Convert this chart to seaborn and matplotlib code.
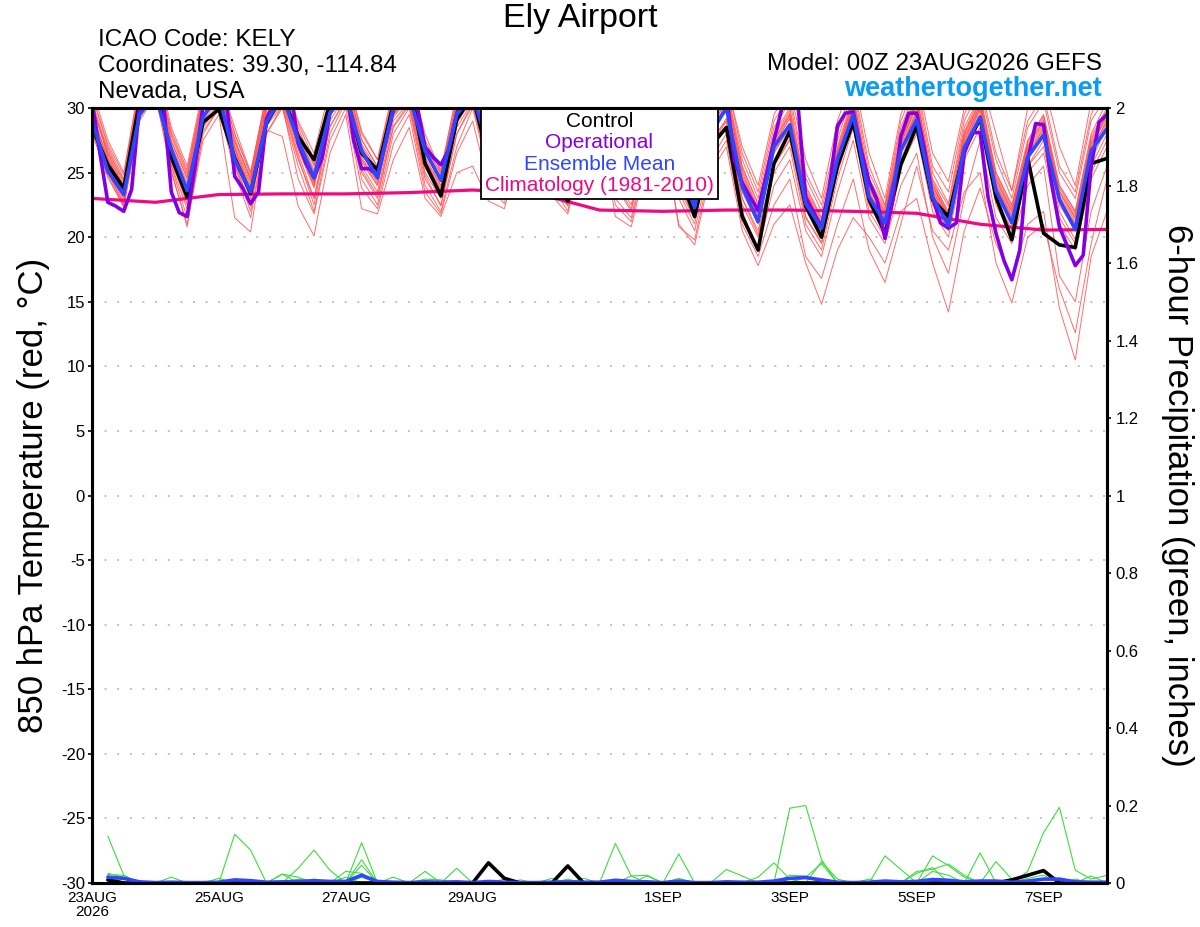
import numpy as np
import pandas as pd
import matplotlib
matplotlib.use("Agg")
import matplotlib.pyplot as plt
import seaborn as sns
from matplotlib.offsetbox import AnchoredOffsetbox, TextArea, VPacker

# forecast hours from 00Z 23AUG2026
hours = list(range(0, 385, 6))        # ensemble / control / mean (6-hourly)
hours_op = list(range(0, 385, 3))     # operational run (3-hourly)
hours_clim = list(range(0, 385, 24))  # climatology (daily)

# 850 hPa temperature (C)
control_t = [28.5, 25.6, 23.8, 30.5, 32, 26.2, 23.1, 28.9, 29.9, 26.1, 23.4, 28.8, 31,
             27.8, 26.0, 30.3, 31, 26.5, 25.2, 30.3, 32, 25.7, 23.2, 29.1, 31, 26,
             24, 29, 31, 24.5, 22.8, 28, 30.5, 25.5, 23.5, 28, 30, 25, 21.6, 27,
             28.5, 21.6, 19.0, 25.7, 28.2, 22.4, 20.0, 25.5, 28.9, 22.9, 20.3, 25.6,
             28.6, 22.9, 21.6, 26.7, 29.2, 23.1, 19.8, 26.1, 20.3, 19.4, 19.2, 25.7, 26.1]

mean_t = [29.0, 25.1, 23.3, 29.5, 31, 26.8, 23.6, 29.3, 31, 26.0, 23.5, 28.9, 31,
          27.5, 24.6, 29.6, 31, 26.7, 24.6, 30, 31, 26.7, 24.4, 29.5, 31, 27,
          25, 29.5, 31, 26.5, 24, 28.5, 30.5, 26, 24, 28, 30, 25.5, 22.3, 28,
          30, 23.9, 21.2, 27.0, 28.7, 22.6, 20.7, 26.0, 29.5, 23.1, 21.1, 26.7,
          29.1, 23.1, 20.9, 26.9, 29.3, 23.6, 21.1, 26.2, 27.9, 22.9, 20.6, 26.7, 28.4]

oper_t = [30.5, 26.5, 22.7, 22.4, 22.0, 23.7, 30.3, 32, 32, 30.5, 23.5, 21.9, 21.6,
          25.5, 30.2, 32, 32, 30.2, 24.7, 23.8, 22.6, 23.5, 29.1, 30.5, 32, 31.5,
          27.3, 25.7, 24.6, 26.1, 29.6, 31, 32, 27.5, 25.3, 25.3, 24.8, 27.3, 29.8,
          31, 32, 30.2, 27.0, 26.2, 25.6, 26.8, 29.6, 31, 32, 31, 27, 25.5, 24.5,
          26, 29.5, 31, 32, 30.5, 27, 25, 23.5, 25, 29, 31, 31.5, 30, 26.5, 25,
          23.8, 25, 28.5, 30.5, 31.5, 30, 26.5, 24, 22.8, 25.5, 29, 30.5, 31, 26,
          24.2, 23.1, 22.1, 24.7, 27.5, 30, 31.5, 30.5, 23.1, 21.9, 20.8, 23.9,
          28.6, 29.6, 29.7, 26.7, 24.3, 22.9, 19.9, 22.9, 27.8, 29.6, 29.6, 26.7,
          23.1, 21.1, 20.7, 21.1, 26.5, 28.1, 28.1, 23.1, 20.3, 18.2, 16.7, 19.0,
          26.0, 28.8, 28.7, 24.2, 20.8, 19.3, 17.8, 18.6, 25.5, 28.9, 29.5]

clim_t = [23.0, 22.7, 23.3, 23.35, 23.35, 23.45, 23.65, 23.4, 22.1, 22.0, 22.1,
          22.1, 22.0, 21.85, 21.0, 20.55, 20.6]

# ensemble members: one row per forecast step, one column per member
members_t = """
28.5 29 29.5 30 28 31 29 30.5 28.8 29.2 30 31 29.5 28.2 30.2 29.8 31.5 28.6 29.4 30.6
25 25.5 26 26.5 24.8 27 25.2 26.2 25.8 25.4 26.8 27.2 25.6 24.6 26.4 25.9 27.5 25.1 26.1 26.6
22.5 23 23.5 24 22.3 24.5 22.8 23.8 23.2 23.4 24.2 24.8 23.6 22.4 23.9 23.3 25 22.6 23.7 24.4
29.5 30 30.5 31 29 31.5 29.8 30.8 30.2 30.4 31.2 31.8 30.6 29.2 30.9 30.3 32 29.6 30.7 31.4
31.5 32 32.5 33 31 33 31.8 32.6 32.2 32.4 33 33.5 32.6 31.2 32.9 32.3 34 31.6 32.7 33.4
25.5 26 26.5 27.5 25 28 25.8 27 26.2 26.8 27.2 28.2 26.4 25.2 27.4 26.6 28.5 25.6 26.9 27.8
21.5 22.5 23.5 24.5 21 25 22.8 24 23 23.8 24.2 25.2 23.4 20.8 24.6 23.2 25.5 22.2 23.6 24.8
28 29 29.5 30.5 27.5 31 28.5 30 29.2 29.8 30.2 31.2 29.4 28.2 30.4 29.6 31.5 28.6 29.9 30.8
30 30.5 31 31.5 29.5 32 30.2 31.2 30.8 31 31.4 32.2 30.6 30 31.6 30.9 32.5 30.4 31.1 31.8
25.5 26 26.5 27.5 21.5 28 25.8 27 26.2 26.8 27.2 28.5 26.4 25 27.4 26.6 28 25.6 26.9 27.6
22 23 23.5 24.5 20.4 25 22.5 24 23.2 23.8 24.2 25 23.4 21.5 24.6 23.6 24.8 22.4 23.5 24.4
28 29 29.5 30.5 28.3 31 28.6 30 29.2 29.8 30.2 31 29.5 28 30.4 29.6 31.2 28.8 29.9 30.6
30 30.5 31 31.5 27.8 32 30.2 31.2 30.8 31 31.4 32.2 30.6 30.2 31.6 30.9 32.5 30.4 31.1 31.8
25.5 26.5 27 28 22.4 28.5 26 27.5 26.8 27.2 27.8 28.8 27 24.5 28 27.4 29 26.2 27.6 28.2
22 23 24 25 20.1 25.5 23 24.5 23.8 24.2 24.6 26 24 21.8 25.2 24.4 26.5 22.5 24.3 25.6
28 29 29.5 30.5 26.5 31 28.5 30 29.5 29.8 30.2 31 29.4 27.5 30.5 29.6 31.5 28.6 30 30.8
30.5 31 31.5 32 29.5 32.5 30.8 31.8 31.2 31.4 32 32.8 31.3 30 32.2 31.6 33 30.6 31.7 32.4
24.5 25.5 26 27 22.2 27.5 25 26.5 25.8 26.2 26.8 28 26 23.8 27.2 26.4 28.2 25.2 26.6 27.6
22.5 23.5 24 25 21.8 25.5 23 24.5 24 24.2 25 26 24.4 22.2 25.2 24.6 26 23.2 24.8 25.4
28 29 29.5 30.5 26 31 28.5 30 29.3 29.8 30.2 31.2 29.5 27.2 30.5 29.6 31.5 28.6 30 30.8
30 30.5 31 31.5 28.5 32 30.2 31.2 30.8 31 31.4 32.2 30.6 29.5 31.6 30.9 32.5 30.4 31.1 31.8
24 25 25.5 26.5 23 27 24.5 26 25.4 25.8 26.4 27.5 25.6 23.5 26.8 26 28 24.8 26.2 27.2
22 23 23.5 24.5 21.6 25 22.5 24 23.2 23.8 24.4 25.2 23.4 21.8 24.6 23.6 25 22.4 24 24.8
27 28.5 29 30 25 30.5 28 29.5 28.8 29.2 30 31 29 26.5 30.2 29.4 31.2 28 29.6 30.6
30 30.5 31 31.5 25.5 32 30.2 31.2 30.8 31 31.4 32.2 30.6 29 31.6 30.9 32.5 30.4 31.1 31.8
25 26 26.5 27.5 22.8 28 25.5 27 26.4 26.8 27.4 28.4 26.6 24 27.8 27 28.8 25.4 27.2 28.2
23 24 24.5 25.5 22.2 26 23.5 25 24.4 24.8 25.4 26.4 24.6 22.6 25.8 25 26.6 23.6 25.2 26
28 29 29.5 30.5 27 31 28.5 30 29.5 29.8 30.2 31 29.4 27.5 30.5 29.6 31.5 28.6 30 30.8
30 30.5 31 31.5 29 32 30.2 31.2 30.8 31 31.4 32.2 30.6 29.5 31.6 30.9 32.5 30.4 31.1 31.8
24 25 25.5 26.5 23.5 27 24.5 26 25.4 25.8 26.4 27.5 25.6 23.2 26.8 26 28 24.8 26.2 27.2
22 23 23.5 24.5 22.5 25 22.6 24 23.2 23.8 24.4 25.2 23.4 21.8 24.6 23.6 25 22.4 24 24.8
27.5 28.5 29 30 27 30.5 28 29.5 29 29.4 30 31 29.2 27 30.2 29.6 31 28.4 29.8 30.6
30 30.5 31 31.5 29 32 30.2 31.2 30.8 31 31.4 32.2 30.6 29.5 31.6 30.9 32.5 30.4 31.1 31.8
23 24.5 25 26 21.6 26.5 24 25.5 25 25.4 26 27 25.2 22.5 26.4 25.6 27.5 24.2 25.8 26.8
21.5 22.5 23 24 20.8 24.5 22 23.5 23 23.2 24 25 23.4 21.2 24.2 23.6 25 22.2 23.8 24.6
27 28 28.5 29.5 26 30 27.5 29 28.5 28.8 29.5 30.5 28.6 26.5 29.8 29 30.8 27.8 29.2 30.2
29.5 30 30.5 31 28 31.5 29.8 30.8 30.4 30.6 31 32 30.2 28.5 31.2 30.5 32 29.9 30.7 31.5
23 24 25 26 21 26.5 23.5 25.5 24.8 25.2 26 27 25 20.8 26.4 25.6 27.5 23.8 25.8 26.8
20.5 21.5 22.5 23.5 19.4 24 21 23 22.4 22.8 23.6 24.6 22.6 19.8 23.8 23.2 24.8 21.4 23.4 24.2
26 27.5 28 29 25 29.5 27 28.5 28 28.2 29 30 28.4 25.5 29.2 28.6 30.5 27.2 28.8 29.8
28 29 30 31 27 31.5 29 30.5 30 30.2 31 32 30.2 27.5 31.2 30.4 32 29.2 30.6 31.5
22 23 23.5 25 20.5 25.5 22.5 24.5 24 24.2 25.2 26.5 24.4 21 25.4 24.6 27 23 24.8 26
19 20.5 21 22 17.8 22.5 20 21.8 21.2 21.4 22.2 23.5 21.6 18.5 22.6 21.8 24 20.2 22 23
24 25.5 26.5 27.5 21 28 25 27.2 26.6 26.8 27.6 29 26.8 22.5 27.8 27.2 29.5 25.6 27.4 28.5
26 27.5 28.5 29.5 22.5 30 27 29.2 28.6 28.8 29.6 31 28.8 24.5 29.8 29.2 31.5 27.6 29.4 30.5
20.5 21.5 22.2 23.5 18 24 21 23.2 22.6 22.8 23.6 25 22.8 18.5 23.8 23.2 26 21.6 23.4 24.6
18.5 19.5 20.2 21 14.8 21.5 19 20.8 20.4 20.6 21.2 22.5 20.4 16.8 21.4 20.8 23 19.6 21 22
23.5 25 25.8 26.5 19 27 24.5 26.2 25.8 26 26.6 28 25.8 21 26.8 26.2 29 25 26.4 27.5
27.5 29 30 30.5 21.5 31 28.5 30.2 29.6 29.8 30.6 32 29.8 24.5 30.8 30.2 32.5 29 30.4 31.5
21.5 22.5 23 24 20 24.5 22 23.6 23.2 23.4 24.2 25.5 23.4 19 24.4 23.8 26.5 22.6 23.8 25
19.5 20.5 21 21.8 18 22.2 20 21.5 21.2 21.3 22 22.5 21.4 16.5 21.8 21.6 23 20.6 21.6 22.4
24 26 26.8 27.5 22 28 25.5 27.2 26.8 27 27.6 29 26.8 21 27.8 27.2 29.5 26 27.4 28.5
26.5 28.5 29.5 30.5 23 31 28 30.2 29.6 29.8 30.6 32 29.8 25.5 30.8 30.2 32.5 29 30.4 31.5
20 22.5 23.2 24 18 24.5 22 23.8 23.4 23.6 24.2 25.5 23.6 20.5 24.4 24 26.5 22.6 24 25
17.2 20.5 21 21.8 14.2 22.4 20 21.5 21.2 21.3 22 23.5 21.4 19 21.8 21.6 24.3 20.6 21.6 22.6
23 26.5 27 28 20.5 28.5 26 27.6 27.2 27.4 28 29.5 27.2 23.5 28.2 27.6 30 26.5 27.8 29
27.5 29 29.5 30.5 23.8 31 28.5 30.2 29.8 30 30.6 32 30 25 30.8 30.2 32.5 29.2 30.4 31.5
21.5 22.8 23.5 24.5 19.5 25 22.5 24.2 23.8 24 24.8 26.5 24 18 25 24.4 28 23 24.6 26
19.5 20.5 21 22 16.8 22.5 20 21.6 21.2 21.4 22.2 23.6 21.6 14.9 22.4 21.8 23.6 20.6 22 23
24 25.5 26.2 27 21 27.5 25 26.6 26.2 26.4 27.2 29 26.4 20 27.4 26.8 30 25.5 27 28.5
25.5 27 28 29 22 29.5 26.5 28.6 28.2 28.4 29.2 31 28.4 21 29.4 28.8 32 27.5 29 30.5
17 21.5 22.5 23.5 14.5 24 21 23.2 22.8 23 23.8 25.5 23 16 24 23.4 27 22 23.6 25
15 19.5 20.5 21.5 10.5 22 19 21.2 20.8 21 21.8 23.5 21 12.6 22 21.4 24 19.8 21.6 23
22 25 26 27 18.5 28 24.5 27.2 26.6 26.8 27.6 29.5 26.8 19.5 27.8 27.2 30.5 25.5 27.4 29
25.5 27.5 28.5 29.5 22 30.5 27 29.2 28.8 29 29.8 32 29 24.5 30 29.4 32.5 28 29.6 31
"""

# 6-hour precipitation (inches), valid at 06Z 23AUG onward
control_p = [0.008, 0, 0, 0, 0, 0, 0, 0, 0, 0, 0, 0, 0, 0, 0, 0, 0, 0, 0, 0, 0, 0,
             0, 0, 0.052, 0.012, 0, 0, 0, 0.044, 0, 0, 0, 0, 0, 0, 0, 0, 0, 0, 0, 0,
             0, 0, 0, 0, 0, 0, 0, 0, 0, 0, 0, 0, 0, 0, 0, 0.008, 0.02, 0.032, 0, 0, 0, 0]

mean_p = [0.015, 0.012, 0.003, 0.001, 0.002, 0.001, 0.001, 0.002, 0.008, 0.006, 0.002,
          0.003, 0.004, 0.006, 0.004, 0.004, 0.02, 0.004, 0.002, 0.001, 0.003, 0.002,
          0.003, 0.001, 0.004, 0.002, 0.001, 0.001, 0.002, 0.003, 0.002, 0.002, 0.007,
          0.004, 0.003, 0.001, 0.005, 0.001, 0.001, 0.003, 0.002, 0.002, 0.005, 0.012,
          0.014, 0.008, 0.002, 0.001, 0.002, 0.005, 0.003, 0.004, 0.009, 0.007, 0.003,
          0.005, 0.005, 0.002, 0.005, 0.01, 0.01, 0.003, 0.002, 0.002]

# members: (forecast step, amount); every other step is dry
members_p = [
    [(1, 0.121), (2, 0.02), (9, 0.126), (10, 0.085)],
    [(1, 0.022), (2, 0.02), (13, 0.038), (14, 0.085), (15, 0.033), (17, 0.104),
     (44, 0.193), (45, 0.2), (46, 0.06)],
    [(1, 0.025), (2, 0.015), (12, 0.023), (13, 0.015), (17, 0.06), (19, 0.015),
     (33, 0.102), (34, 0.018)],
    [(1, 0.02), (5, 0.015), (12, 0.023), (17, 0.046), (21, 0.03), (23, 0.038),
     (29, 0.012), (37, 0.075)],
    [(8, 0.012), (16, 0.03), (17, 0.025), (40, 0.035), (41, 0.018)],
    [(13, 0.01), (17, 0.02), (31, 0.012), (35, 0.018), (46, 0.055), (47, 0.01)],
    [(21, 0.01), (22, 0.008), (34, 0.018), (35, 0.02), (50, 0.07), (51, 0.035)],
    [(14, 0.01), (16, 0.015), (42, 0.015), (43, 0.052), (44, 0.01), (53, 0.07),
     (54, 0.045), (55, 0.015)],
    [(3, 0.005), (26, 0.01), (37, 0.012), (52, 0.025), (53, 0.04), (56, 0.078)],
    [(49, 0.01), (52, 0.03), (53, 0.035), (54, 0.049), (55, 0.02), (59, 0.03),
     (60, 0.13), (61, 0.195), (62, 0.033), (63, 0.01), (64, 0.02)],
    [(1, 0.018), (17, 0.015), (30, 0.01), (45, 0.015), (46, 0.05), (62, 0.01)],
    [(18, 0.005), (27, 0.008), (44, 0.02), (45, 0.018), (59, 0.012), (60, 0.02),
     (63, 0.018)],
    [(9, 0.005), (24, 0.005), (53, 0.03), (54, 0.02), (57, 0.055), (58, 0.01)],
    [(25, 0.006), (39, 0.004)],
]

temp_ticks = [30, 25, 20, 15, 10, 5, 0, -5, -10, -15, -20, -25, -30]
temp_tick_labels = ["30", "25", "20", "15", "10", "5", "0", "-5", "-10", "-15",
                    "-20", "-25", "-30"]
prcp_ticks = [2, 1.8, 1.6, 1.4, 1.2, 1, 0.8, 0.6, 0.4, 0.2, 0]
prcp_tick_labels = ["2", "1.8", "1.6", "1.4", "1.2", "1", "0.8", "0.6", "0.4",
                    "0.2", "0"]
date_ticks = [0, 48, 96, 144, 216, 264, 312, 360]
date_labels = ["23AUG\n2026", "25AUG", "27AUG", "29AUG", "1SEP", "3SEP", "5SEP", "7SEP"]

RED = "#ff5454"
GREEN = "#3ddc3d"
PURPLE = "#8400e0"
BLUE = "#2f45ff"
MAGENTA = "#ef0a80"

sns.set_theme(style="white")
plt.rcParams["font.family"] = ["Liberation Sans", "DejaVu Sans"]
plt.rcParams["axes.unicode_minus"] = False
for key in ("text.color", "axes.labelcolor", "xtick.color", "ytick.color"):
    plt.rcParams[key] = "black"

# long-form tables for seaborn
rows = [[float(v) for v in line.split()] for line in members_t.strip().splitlines()]
n_mem = len(rows[0])
mem_df = pd.DataFrame({
    "hour": np.repeat(hours, n_mem),
    "member": np.tile(np.arange(n_mem), len(hours)),
    "temp": np.concatenate(rows),
})

p_hours = hours[1:]
p_frames = []
for m in range(20):
    amounts = np.zeros(len(p_hours))
    if m < len(members_p):
        for step, val in members_p[m]:
            amounts[step - 1] = val
    p_frames.append(pd.DataFrame({"hour": p_hours, "member": m, "prcp": amounts}))
prcp_df = pd.concat(p_frames, ignore_index=True)

fig = plt.figure(figsize=(12, 9.27), dpi=100)
ax = fig.add_axes([92 / 1200, 44 / 927, 1015 / 1200, 775 / 927])
ax2 = ax.twinx()

# temperature
sns.lineplot(data=mem_df, x="hour", y="temp", units="member", estimator=None,
             color=RED, linewidth=0.7, alpha=0.85, ax=ax, legend=False)
sns.lineplot(x=hours_clim, y=clim_t, color=MAGENTA, linewidth=2.3, ax=ax)
sns.lineplot(x=hours, y=control_t, color="black", linewidth=2.6, ax=ax)
sns.lineplot(x=hours_op, y=oper_t, color=PURPLE, linewidth=2.6, ax=ax)
sns.lineplot(x=hours, y=mean_t, color=BLUE, linewidth=2.6, ax=ax)

# precipitation
sns.lineplot(data=prcp_df, x="hour", y="prcp", units="member", estimator=None,
             color=GREEN, linewidth=0.8, ax=ax2, legend=False)
sns.lineplot(x=p_hours, y=control_p, color="black", linewidth=2.6, ax=ax2)
sns.lineplot(x=p_hours, y=mean_p, color=BLUE, linewidth=2.6, ax=ax2)

ax.set_xlim(0, 384)
ax.set_ylim(-30, 30)
ax2.set_ylim(0, 2)

ax.set_yticks(temp_ticks)
ax.set_yticklabels(temp_tick_labels, fontsize=12)
ax2.set_yticks(prcp_ticks)
ax2.set_yticklabels(prcp_tick_labels, fontsize=12)
ax.set_xticks(date_ticks)
ax.set_xticklabels(date_labels, fontsize=11, linespacing=1.0)

ax.tick_params(axis="y", direction="out", length=3, width=1.2, pad=2, left=True,
               colors="black")
ax2.tick_params(axis="y", direction="out", length=3, width=1.2, pad=3, right=True,
                colors="black")
ax.tick_params(axis="x", length=0, pad=6, colors="black")

ax.grid(axis="y", color="#b8b8b8", linestyle=(0, (1, 6)), linewidth=1.3)
ax.grid(axis="x", visible=False)
ax2.grid(False)

for a in (ax, ax2):
    for sp in a.spines.values():
        sp.set_linewidth(2.2)
        sp.set_color("black")
        sp.set_visible(True)

ax.set_xlabel("")
ax.set_ylabel("850 hPa Temperature (red, °C)", fontsize=25, va="bottom")
ax.yaxis.set_label_coords(-0.0414, 0.5)
ax2.set_ylabel("6-hour Precipitation (green, inches)", fontsize=25, rotation=270,
               va="bottom")
ax2.yaxis.set_label_coords(1.053, 0.5)

# legend box with coloured, centred entries
entries = [("Control", "black"), ("Operational", PURPLE),
           ("Ensemble Mean", BLUE), ("Climatology (1981-2010)", MAGENTA)]
boxes = [TextArea(t, textprops=dict(color=c, fontsize=15)) for t, c in entries]
pack = VPacker(children=boxes, align="center", pad=0, sep=1.6)
anchored = AnchoredOffsetbox(loc="upper center", child=pack, pad=0.28, borderpad=0,
                             frameon=True, bbox_to_anchor=(0.5, 1.0),
                             bbox_transform=ax.transAxes)
anchored.patch.set_boxstyle("square", pad=0)
anchored.patch.set_edgecolor("black")
anchored.patch.set_linewidth(1.3)
anchored.set_zorder(10)
ax.add_artist(anchored)

# header
fig.text(580 / 1200, 1 - 19 / 927, "Ely Airport", fontsize=24.5, ha="center", va="center")
fig.text(98 / 1200, 1 - 40 / 927, "ICAO Code: KELY", fontsize=17.5, ha="left", va="center")
fig.text(98 / 1200, 1 - 66 / 927, "Coordinates: 39.30, -114.84", fontsize=17.5,
         ha="left", va="center")
fig.text(98 / 1200, 1 - 92 / 927, "Nevada, USA", fontsize=17.5, ha="left", va="center")
fig.text(1102 / 1200, 1 - 64 / 927, "Model: 00Z 23AUG2026 GEFS", fontsize=17.5,
         ha="right", va="center")
fig.text(1102 / 1200, 1 - 89 / 927, "weathertogether.net", fontsize=19.5,
         fontweight="bold", color="#0a9cf5", ha="right", va="center")

fig.savefig("out.png", dpi=100)
